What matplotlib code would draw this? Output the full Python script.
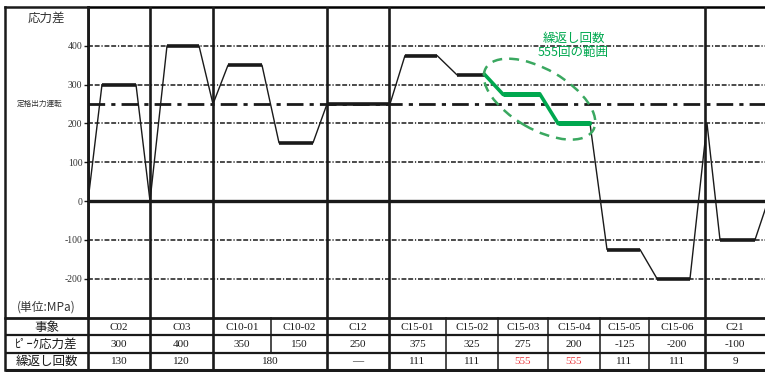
import matplotlib
matplotlib.use("Agg")
import matplotlib.pyplot as plt
from matplotlib.patches import Ellipse
from matplotlib.transforms import Affine2D, ScaledTranslation

JP = ['Noto Sans CJK JP', 'DejaVu Sans']
SERIF = ['Liberation Serif', 'Noto Sans CJK JP', 'DejaVu Sans']

# ---- data -------------------------------------------------------------
events = ['C02', 'C03', 'C10-01', 'C10-02', 'C12', 'C15-01', 'C15-02',
          'C15-03', 'C15-04', 'C15-05', 'C15-06', 'C21']
peak_stress = ['300', '400', '350', '150', '250', '375', '325',
               '275', '200', '-125', '-200', '-100']
# cycle counts: (text, first column, end column)
cycle_cells = [('130', 0, 1), ('120', 1, 2), ('180', 2, 4), ('—', 4, 5),
               ('111', 5, 6), ('111', 6, 7), ('555', 7, 8), ('555', 8, 9),
               ('111', 9, 10), ('111', 10, 11), ('9', 11, 12)]
highlight_cycles = '555'

# time-axis column edges of each event (arbitrary time units)
col_edges = [0, 62, 125, 183, 239, 301, 358, 410, 460, 512, 561, 617, 677]
group_edges = [0, 62, 125, 239, 301, 617]

# stress-difference history (time, MPa)
t = [0, 14, 48, 62, 79, 111, 125, 140, 174, 191, 225, 239, 302, 317, 349,
     369, 397, 415, 452, 470, 502, 519, 552, 569, 602, 619, 632, 667, 680]
s = [0, 300, 300, 0, 400, 400, 250, 350, 350, 150, 150, 250, 250, 375, 375,
     325, 325, 275, 275, 200, 200, -125, -125, -200, -200, 200, -100, -100, 0]
green_range = (16, 20)          # point indices of the 555-cycle range

grid_levels = [400, 300, 200, 100, -100, -200]
rated_level = 250
y_ticks = [-200, -100, 0, 100, 200, 300, 400]

GREEN = '#00a84f'
RED = '#e8383d'
INK = '#1a1a1a'

# ---- figure layout (pixel-based) ---------------------------------------
W, H = 765, 372
fig = plt.figure(figsize=(W / 100, H / 100), dpi=100)

def box(x0, y0, x1, y1):
    return [x0 / W, 1 - y1 / H, (x1 - x0) / W, (y1 - y0) / H]

ax = fig.add_axes(box(88, 7, 765, 318))
ax.set_xlim(0, 677)
ax.set_ylim(-301.5, 500)

# grid lines
for g in grid_levels:
    ax.axhline(g, color=INK, lw=1.1, ls=(0, (3.2, 1.2, 3.2, 1.2, 0.8, 1.2)), zorder=1)
ax.axhline(rated_level, color=INK, lw=2.0, ls=(0, (6, 2.2, 1.5, 2.2)), zorder=1)
ax.axhline(0, color=INK, lw=2.4, zorder=2)

# event group separators
for e in group_edges:
    ax.axvline(e, color=INK, lw=1.9, zorder=3)

# stress path: thin ramps, thick plateaus
g0, g1 = green_range
ax.plot(t[:g0 + 1], s[:g0 + 1], color=INK, lw=1.0, zorder=4, solid_capstyle='butt')
ax.plot(t[g1:], s[g1:], color=INK, lw=1.0, zorder=4, solid_capstyle='butt')
for i in range(len(t) - 1):
    if s[i] == s[i + 1] and not (g0 <= i < g1):
        ax.plot(t[i:i + 2], s[i:i + 2], color=INK, lw=2.6, zorder=4,
                solid_capstyle='butt')
ax.plot(t[g0:g1 + 1], s[g0:g1 + 1], color=GREEN, lw=2.6, zorder=5,
        solid_joinstyle='miter')
for i in range(g0, g1):
    if s[i] == s[i + 1]:
        ax.plot(t[i:i + 2], s[i:i + 2], color=GREEN, lw=3.6, zorder=5,
                solid_capstyle='butt')

# dashed ellipse around the 555-cycle range
cx = (t[g0] + t[g1]) / 2 + 2
cy = (s[g0] + s[g1]) / 2
tr = Affine2D() + ScaledTranslation(cx, cy, ax.transData)
ax.add_patch(Ellipse((0, 0), 124, 60, angle=-30, transform=tr, fill=False,
                     ec='#3aa860', lw=1.8, ls=(0, (4, 2.8)), zorder=6))
ax.text(cx + 34, 401, '繰返し回数\n555回の範囲', color=GREEN, fontsize=9,
        family=JP, ha='center', va='center', linespacing=1.05, zorder=6)

# axis styling
ax.set_xticks([])
ax.set_yticks(y_ticks)
ax.set_yticklabels([str(v) for v in y_ticks], family=SERIF, fontsize=7, color='#333333')
ax.tick_params(axis='y', length=3, width=1, pad=1, color=INK)
for side in ['right', 'bottom']:
    ax.spines[side].set_visible(False)
ax.spines['top'].set_linewidth(1.8)
ax.spines['left'].set_linewidth(1.9)

# left label column (shares the stress scale)
lab = fig.add_axes(box(5, 7, 88, 318), sharey=ax)
lab.set_xlim(0, 1)
lab.axis('off')
lab.plot([0, 0], [-301.5, 500], color=INK, lw=1.8, clip_on=False)
lab.plot([0, 1], [500, 500], color=INK, lw=1.8, clip_on=False)
lab.text(0.5, 471, '応力差', family=JP, fontsize=9, ha='center', va='center', color='#333333')
lab.text(0.14, rated_level, '定格出力運転', family=JP, fontsize=5.5, ha='left',
         va='center', color='#333333')
lab.text(0.5, -272, '(単位:MPa)', family=JP, fontsize=8.5, ha='center', va='center',
         color='#333333')

# ---- table --------------------------------------------------------------
tab = fig.add_axes(box(5, 318, 765, 370))
tab.set_xlim(-83, 677)
tab.set_ylim(3, 0)
tab.axis('off')

row_labels = ['事象', 'ﾋﾟｰｸ応力差', '繰返し回数']
for r, lbl in enumerate(row_labels):
    tab.text(-41.5, r + 0.52, lbl, family=JP, fontsize=9, ha='center', va='center', color=INK)

for i, (ev, pk) in enumerate(zip(events, peak_stress)):
    xc = (col_edges[i] + col_edges[i + 1]) / 2
    tab.text(xc, 0.52, ev, family=SERIF, fontsize=8, ha='center', va='center', color=INK)
    tab.text(xc, 1.52, pk, family=SERIF, fontsize=8, ha='center', va='center', color=INK)
for txt, a, b in cycle_cells:
    xc = (col_edges[a] + col_edges[b]) / 2
    col = RED if txt == highlight_cycles else INK
    tab.text(xc, 2.52, txt, family=SERIF, fontsize=8, ha='center', va='center', color=col)

# table rules
for y, lw in [(0, 2.0), (1, 1.6), (2, 1.6), (3, 2.2)]:
    tab.plot([-83, 700], [y, y], color=INK, lw=lw, clip_on=False, solid_capstyle='butt')
tab.plot([-83, -83], [0, 3], color=INK, lw=1.8, clip_on=False)
inner = {col_edges[k] for _, a2, b2 in cycle_cells for k in range(a2 + 1, b2)}
for e in col_edges[:-1]:
    thick = e in group_edges
    y_end = 2 if e in inner else 3
    tab.plot([e, e], [0, y_end], color=INK, lw=1.9 if thick else 1.1, clip_on=False)

fig.savefig('out.png', dpi=100)
